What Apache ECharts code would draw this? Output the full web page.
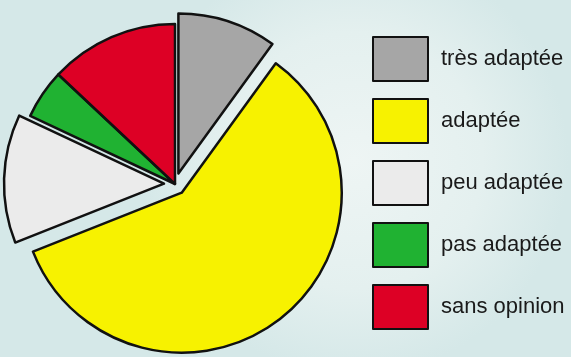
<!DOCTYPE html>
<html><head><meta charset="utf-8">
<script src="https://cdn.jsdelivr.net/npm/echarts@6/dist/echarts.min.js"></script>
<style>html,body{margin:0;padding:0;}#c{width:571px;height:357px;}</style>
</head><body><div id="c"></div>
<script>
const categories = ['très adaptée', 'adaptée', 'peu adaptée', 'pas adaptée', 'sans opinion'];
const values = [10, 59, 13, 5, 13];
const colors = ['#a6a6a6', '#f7f200', '#ebebeb', '#20b232', '#dd0025'];
const exploded = [true, true, true, false, false];

const chart = echarts.init(document.getElementById('c'));
chart.setOption({
  backgroundColor: {
    type: 'radial', x: 0.62, y: 0.45, r: 0.6,
    colorStops: [{offset: 0, color: '#eef5f4'}, {offset: 0.6, color: '#e4f0ef'}, {offset: 1, color: '#d5e8e8'}]
  },
  animation: false,
  legend: {
    orient: 'vertical', left: 367, top: 31,
    itemWidth: 55, itemHeight: 44, itemGap: 16,
    icon: 'rect',
    itemStyle: {borderColor: '#111', borderWidth: 2},
    textStyle: {fontFamily: 'Liberation Sans, Arial, sans-serif', fontSize: 22, color: '#1a1a1a', padding: [0, 0, 0, 8]},
    data: categories
  },
  series: [{
    type: 'pie',
    center: [175, 184],
    radius: [0, 160],
    startAngle: 90,
    clockwise: true,
    selectedMode: 'multiple',
    selectedOffset: 11,
    label: {show: false},
    labelLine: {show: false},
    itemStyle: {borderColor: '#111', borderWidth: 2.5},
    emphasis: {disabled: true},
    data: categories.map((n, i) => ({name: n, value: values[i], selected: exploded[i], itemStyle: {color: colors[i]}}))
  }]
});
</script></body></html>
